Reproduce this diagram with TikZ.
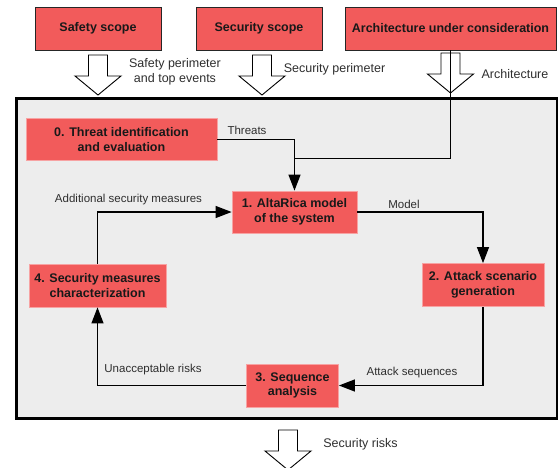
\documentclass[tikz,border=0pt]{standalone}
\usepackage{fontspec}
\setmainfont{Liberation Sans}
\usepackage{tikz}
\usetikzlibrary{arrows.meta}
\definecolor{boxred}{HTML}{F25B5B}
\definecolor{boxedge}{HTML}{F7A3A3}
\definecolor{framegray}{HTML}{EDEDED}
\definecolor{labelgray}{HTML}{2E2E2E}
\tikzset{
	treebox/.style = {align=center, inner sep=0pt, fill=boxred, text=black!90,
		font=\bfseries\fontsize{12.5}{14.5}\selectfont, minimum height=43pt},
	scopebox/.style = {treebox, draw=black!85, line width=0.9pt},
	stepbox/.style = {treebox, draw=boxedge, line width=0.8pt},
	flowlabel/.style = {inner sep=0pt, text=labelgray,
		font=\fontsize{11.5}{13}\selectfont},
	outlabel/.style = {inner sep=0pt, text=labelgray, align=center,
		font=\fontsize{12.5}{14.5}\selectfont},
	hollow/.pic = {\draw[fill=white, line width=0.9pt] (-9.5,0) -- (9.5,0) -- (9.5,21)
		-- (23,21) -- (0,40) -- (-23,21) -- (-9.5,21) -- cycle;}
}

\begin{document}
\begin{tikzpicture}[x=1pt, y=-1pt, >={Triangle[length=16pt,width=12pt]},
	flow/.style = {line width=1.2pt, black}]
\useasboundingbox (0,0) rectangle (558,467);
% container of the analysis loop
\node [draw, line width=3pt, fill=framegray, minimum width=541pt, minimum height=320pt,
	inner sep=0pt] (frame) at (286.5,258) {};
% inputs and output
\pic at (98,55) {hollow};
\pic at (262,55) {hollow};
\pic at (450.5,53) {hollow};
\pic at (288,430) {hollow};
\node [scopebox, minimum width=126pt] (safety) at (98,28.5) {Safety scope};
\node [scopebox, minimum width=126pt] (security) at (259,28.5) {Security scope};
\node [scopebox, minimum width=211pt] (arch) at (450.5,28.5) {Architecture under consideration};
\node [outlabel] (safetyout) at (175,72) {Safety perimeter\\and top events};
\node [outlabel] (securityout) at (334.5,69) {Security perimeter};
\node [outlabel] (archout) at (515,74) {Architecture};
\node [outlabel] (risksout) at (360.5,444) {Security risks};
% steps
\node [stepbox, minimum width=191pt, minimum height=42pt] (threat) at (121.5,139.5)
	{0. Threat identification\\and evaluation};
\node [stepbox, minimum width=125pt, minimum height=42pt] (model) at (294.5,212)
	{1. AltaRica model\\of the system};
\node [stepbox, minimum width=122pt] (attack) at (483,285) {2. Attack scenario\\generation};
\node [stepbox, minimum width=92pt] (seq) at (292.5,385.5) {3. Sequence\\analysis};
\node [stepbox, minimum width=137pt] (measures) at (97.5,285.5) {4. Security measures\\characterization};
% connectors
\coordinate (join) at (294.5,158);
\draw [flow, line width=0.9pt] (arch.south) |- (join);
\draw [flow, ->] (threat.east) -| (model.north);
\draw [flow, ->] (model.east) -| (attack.north);
\draw [flow, ->] (attack.south) |- (seq.east);
\draw [flow, ->] (seq.west) -| (measures.south);
\draw [flow, ->] (measures.north) |- (model.west);
\node [flowlabel] (threatlbl) at (247,130) {Threats};
\node [flowlabel] (modellbl) at (404,204) {Model};
\node [flowlabel] (attacklbl) at (412,373) {Attack sequences};
\node [flowlabel] (risklbl) at (153,370) {Unacceptable risks};
\node [flowlabel] (addlbl) at (128.5,200) {Additional security measures};
\end{tikzpicture}
\end{document}
